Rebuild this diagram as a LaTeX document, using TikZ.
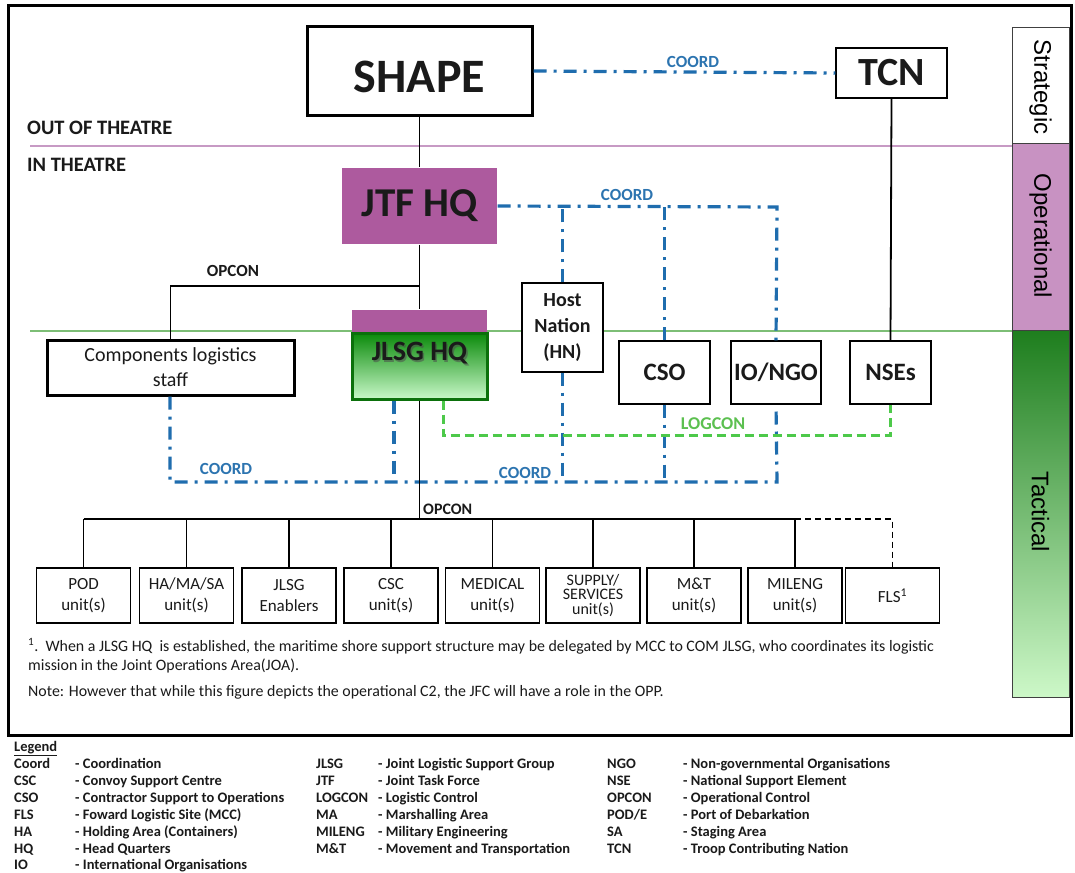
\documentclass[tikz,border=0pt]{standalone}
\usepackage{fontspec}
\setmainfont{Carlito}
\newfontfamily\arialf{Liberation Sans}
\definecolor{coordblue}{HTML}{1F6DAE}
\definecolor{coordtext}{HTML}{2C74B0}
\definecolor{loggreen}{HTML}{4DC94A}
\definecolor{logtext}{HTML}{5CC050}
\definecolor{jtfpink}{HTML}{AD5A9E}
\definecolor{oppink}{HTML}{C892C2}
\definecolor{linepink}{HTML}{C79AC4}
\definecolor{linegreen}{HTML}{7DBE76}
\definecolor{jlsgborder}{HTML}{0B700B}
\definecolor{jlsgtopc}{HTML}{0A8A0A}
\definecolor{jlsgbotc}{HTML}{C8F8C8}
\definecolor{tacdark}{HTML}{1E7E1E}
\definecolor{taclight}{HTML}{CDF8C8}
\definecolor{txt}{HTML}{1A1A1A}
\newcommand{\fsz}[2]{\fontsize{#1}{#2}\selectfont}
\tikzset{
  box/.style={draw=black, line width=1.3pt, fill=white, inner sep=0pt, align=center, text=txt},
  thickbox/.style={box, line width=3pt},
  conn/.style={draw=black, line width=1.8pt},
  coordline/.style={draw=coordblue, line width=3.2pt, dash pattern=on 13pt off 7pt on 3pt off 7pt},
  logline/.style={draw=loggreen, line width=3pt, dash pattern=on 9pt off 5pt},
  coordlbl/.style={text=coordtext, font=\fsz{17}{19}\bfseries, inner sep=1pt},
  bluelbl/.style={text=txt, font=\fsz{17}{19}\bfseries, inner sep=1pt},
  unitbox/.style={box, minimum width=94pt, minimum height=55pt, font=\fsz{17}{21}},
  sidelbl/.style={rotate=-90, font=\arialf\fsz{24}{26}, text=black},
  legabbr/.style={anchor=base west, font=\fsz{14.5}{16}\bfseries, text=txt, inner sep=0pt},
  legdesc/.style={anchor=base west, font=\fsz{14.5}{16}\bfseries, text=txt, inner sep=0pt},
  notetxt/.style={anchor=west, font=\fsz{15.9}{18}, text=txt, inner sep=0pt},
}
\begin{document}
\begin{tikzpicture}[x=1pt,y=-1pt]
\path[use as bounding box, fill=white] (0,0) rectangle (1075,872);
% frame
\draw[line width=3pt] (8,6) rectangle (1071,735);

% level lines
\draw[linepink, line width=1.8pt] (30,146) -- (1012,146);
\draw[linegreen, line width=1.8pt] (30,331) -- (1012,331);

% side bands
\node[draw=black!75, line width=1pt, fill=white, minimum width=57pt, minimum height=116pt, inner sep=0pt, anchor=north west] (strat) at (1012,27) {};
\node[draw=black!75, line width=1pt, fill=oppink, minimum width=57pt, minimum height=187pt, inner sep=0pt, anchor=north west] (oper) at (1012,143) {};
\node[draw=black!75, line width=1pt, top color=tacdark, bottom color=taclight, minimum width=57pt, minimum height=367pt, inner sep=0pt, anchor=north west] (tact) at (1012,330) {};
\node[sidelbl] (stratl) at (1040.5,87) {Strategic};
\node[sidelbl] (operl) at (1040.5,236) {Operational};
\node[sidelbl] (tactl) at (1040.5,512) {Tactical};

% theatre labels
\node[anchor=west, font=\fsz{20.5}{22}\bfseries, text=txt, inner sep=0pt] (out) at (27,128) {OUT OF THEATRE};
\node[anchor=west, font=\fsz{20.5}{22}\bfseries, text=txt, inner sep=0pt] (in) at (27,165) {IN THEATRE};

% main nodes
\node[thickbox, minimum width=225pt, minimum height=89pt] (shape) at (419.5,71) {};
\node[font=\fsz{48}{50}\bfseries, text=txt, inner sep=0pt] (shapel) at (419.5,77) {SHAPE};
\node[box, minimum width=111pt, minimum height=50pt, font=\fsz{40}{42}\bfseries] (tcn) at (891.5,73) {TCN};
\node[box, draw=none, fill=jtfpink, minimum width=155pt, minimum height=76pt, font=\fsz{41}{43}\bfseries] (jtf) at (419.5,206) {JTF HQ};

\node[thickbox, minimum width=247pt, minimum height=55pt, font=\fsz{20}{25}] (comp) at (170.5,367.5) {Components logistics\\staff};

\node[box, draw=none, fill=jtfpink, minimum width=135pt, minimum height=23pt] (jlsgtop) at (419.5,321.5) {};
\node[box, draw=jlsgborder, line width=3pt, top color=jlsgtopc, bottom color=jlsgbotc, minimum width=135pt, minimum height=66pt] (jlsg) at (419.5,366) {};
\node[text=black!70, font=\fsz{28}{30}\bfseries, inner sep=0pt, opacity=0.55] (jlsgsh) at (421,355) {JLSG HQ};
\node[text=txt, font=\fsz{28}{30}\bfseries, inner sep=0pt] (jlsgl) at (419.5,353) {JLSG HQ};

\node[box, minimum width=81pt, minimum height=89pt, font=\fsz{20}{26}\bfseries] (hn) at (562.5,327.5) {Host\\Nation\\(HN)};
\node[box, minimum width=91pt, minimum height=63pt, font=\fsz{25}{27}\bfseries] (cso) at (664.5,372.5) {CSO};
\node[box, minimum width=90pt, minimum height=63pt, font=\fsz{25}{27}\bfseries] (io) at (776,372.5) {IO/NGO};
\node[box, minimum width=81pt, minimum height=63pt, font=\fsz{25}{27}\bfseries] (nse) at (890.5,372.5) {NSEs};

% black connectors
\draw[conn] (shape.south) -- (jtf.north);
\draw[conn] (jtf.south) -- (jlsgtop.north);
\coordinate (opj) at (419.5,286);
\draw[conn] (opj) -| (comp.north);
\node[bluelbl] (opcon1) at (233,271) {OPCON};
\draw[conn] (tcn.south) -- (nse.north);

% COORD dash-dot
\coordinate (cr) at (777,207);
\draw[coordline] (jtf.east) -- (cr) -- (io.north);
\draw[coordline] (hn.north) -- (hn.north |- cr);
\draw[coordline] (cso.north) -- (cso.north |- cr);
\node[coordlbl] (coord2) at (627,195) {COORD};
\draw[coordline] (shape.east) -- (tcn.west);
\node[coordlbl] (coord1) at (693,62) {COORD};

\coordinate (cbl) at (170,482);
\coordinate (cbr) at (777,482);
\draw[coordline] (comp.south -| cbl) -- (cbl) -- (cbr) -- (io.south);
\draw[coordline] (jlsg.south -| 394,0) -- (394,482);
\draw[coordline] (hn.south) -- (hn.south |- cbl);
\draw[coordline] (cso.south) -- (cso.south |- cbl);
\node[coordlbl] (coord3) at (226,469) {COORD};
\node[coordlbl] (coord4) at (525,473) {COORD};

% LOGCON
\coordinate (lg1) at (443,435);
\draw[logline] (jlsg.south -| lg1) -- (lg1) -| (nse.south);
\node[text=logtext, font=\fsz{18}{20}\bfseries, inner sep=1pt] (logcon) at (713,424) {LOGCON};

% bottom units
\node[unitbox] (pod) at (83.5,595.5) {POD\\unit(s)};
\node[unitbox] (ha) at (186.5,595.5) {HA/MA/SA\\unit(s)};
\node[unitbox] (jen) at (289,595.5) {JLSG\\Enablers};
\node[unitbox] (csc) at (391,595.5) {CSC\\unit(s)};
\node[unitbox] (med) at (492.5,595.5) {MEDICAL\\unit(s)};
\node[unitbox, font=\fsz{16}{14.5}] (sup) at (593,595.5) {SUPPLY/\\SERVICES\\unit(s)};
\node[unitbox] (mt) at (694,595.5) {M\&T\\unit(s)};
\node[unitbox] (mil) at (795,595.5) {MILENG\\unit(s)};
\node[unitbox] (fls) at (892.5,595.5) {FLS\textsuperscript{1}};

\coordinate (bus) at (419.5,519);
\draw[conn] (jlsg.south) -- (bus);
\node[anchor=west, font=\fsz{16}{18}\bfseries, text=txt, inner sep=0pt] (opcon2) at (423,509) {OPCON};
\draw[conn] (pod.north |- bus) -- (mil.north |- bus);
\foreach \b in {pod,ha,jen,csc,med,sup,mt,mil}{\draw[conn] (\b.north) -- (\b.north |- bus);}
\draw[conn, dash pattern=on 6pt off 4pt] (mil.north |- bus) -| (fls.north);

% notes
\node[notetxt] (fn1) at (28,646) {\textsuperscript{1}.\ \ When a JLSG HQ\ \ is established, the maritime shore support structure may be delegated by MCC to COM JLSG, who coordinates its logistic};
\node[notetxt] (fn2) at (28,666) {mission in the Joint Operations Area(JOA).};
\node[notetxt] (note) at (28,692) {Note: However that while this figure depicts the operational C2, the JFC will have a role in the OPP.};

% legend
\node[legabbr] (leg) at (14,751) {\underline{Legend}};
\node[legabbr] (a1) at (14,768) {Coord};  \node[legdesc] (d1) at (75,768) {- Coordination};
\node[legabbr] (a2) at (14,785) {CSC};    \node[legdesc] (d2) at (75,785) {- Convoy Support Centre};
\node[legabbr] (a3) at (14,802) {CSO};    \node[legdesc] (d3) at (75,802) {- Contractor Support to Operations};
\node[legabbr] (a4) at (14,819) {FLS};    \node[legdesc] (d4) at (75,819) {- Foward Logistic Site (MCC)};
\node[legabbr] (a5) at (14,836) {HA};     \node[legdesc] (d5) at (75,836) {- Holding Area (Containers)};
\node[legabbr] (a6) at (14,853) {HQ};     \node[legdesc] (d6) at (75,853) {- Head Quarters};
\node[legabbr] (a7) at (14,869) {IO};     \node[legdesc] (d7) at (75,869) {- International Organisations};

\node[legabbr] (b1) at (316,768) {JLSG};   \node[legdesc] (e1) at (378,768) {- Joint Logistic Support Group};
\node[legabbr] (b2) at (316,785) {JTF};    \node[legdesc] (e2) at (378,785) {- Joint Task Force};
\node[legabbr] (b3) at (316,802) {LOGCON}; \node[legdesc] (e3) at (378,802) {- Logistic Control};
\node[legabbr] (b4) at (316,819) {MA};     \node[legdesc] (e4) at (378,819) {- Marshalling Area};
\node[legabbr] (b5) at (316,836) {MILENG}; \node[legdesc] (e5) at (378,836) {- Military Engineering};
\node[legabbr] (b6) at (316,853) {M\&T};   \node[legdesc] (e6) at (378,853) {- Movement and Transportation};

\node[legabbr] (c1) at (607,768) {NGO};    \node[legdesc] (f1) at (683,768) {- Non-governmental Organisations};
\node[legabbr] (c2) at (607,785) {NSE};    \node[legdesc] (f2) at (683,785) {- National Support Element};
\node[legabbr] (c3) at (607,802) {OPCON};  \node[legdesc] (f3) at (683,802) {- Operational Control};
\node[legabbr] (c4) at (607,819) {POD/E};  \node[legdesc] (f4) at (683,819) {- Port of Debarkation};
\node[legabbr] (c5) at (607,836) {SA};     \node[legdesc] (f5) at (683,836) {- Staging Area};
\node[legabbr] (c6) at (607,853) {TCN};    \node[legdesc] (f6) at (683,853) {- Troop Contributing Nation};
\end{tikzpicture}
\end{document}
